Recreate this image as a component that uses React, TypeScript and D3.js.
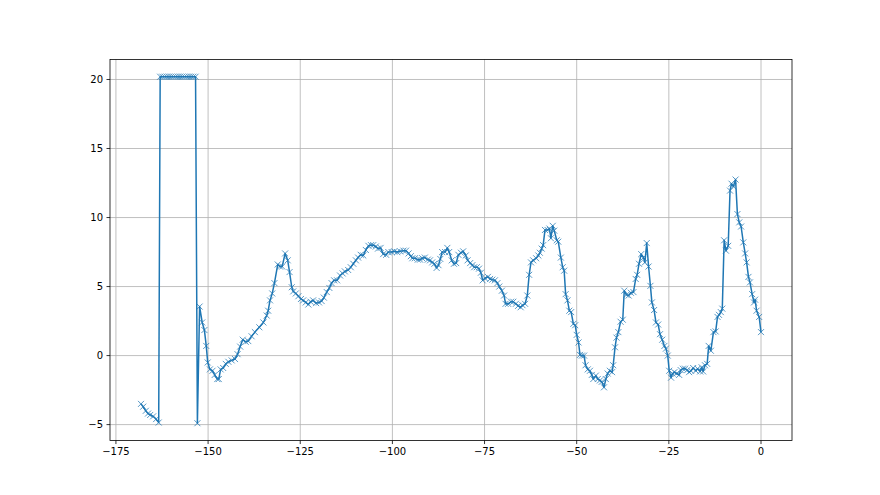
import React from "react";
import * as d3 from "d3";

// Series
const xs: number[] = [
  -168.2, -167.6, -166.9, -166.3, -165.7, -164.9, -164.1, -163.4,
  -163.0, -162.4, -161.8, -161.2, -160.6, -160.0, -159.4, -158.8, -158.2, -157.6, -157.0, -156.4, -155.8, -155.2, -154.6, -154.0, -153.4,
  -152.9, -152.3, -151.6, -151.0, -150.5, -150.1, -149.5, -148.8, -148.2, -147.5, -147.1, -146.6, -145.9, -145.2, -144.5, -143.6, -142.7, -142.0, -141.3, -140.6,
  -139.8, -139.1, -138.2, -137.3, -136.1, -135.0, -134.1, -133.7, -133.2, -132.6, -132.0, -131.1, -130.5, -129.9, -129.1, -128.4, -127.9, -127.3, -126.9, -126.2,
  -125.5, -124.8, -124.2, -123.5, -122.8, -122.2, -121.5, -120.7, -119.9, -119.2, -118.6, -117.8, -117.1, -116.5, -115.8, -115.0, -114.2, -113.5, -112.9, -112.0,
  -111.3, -110.6, -109.9, -109.3, -108.6, -107.9, -107.2, -106.5, -105.8, -105.2, -104.5, -103.9, -103.2, -102.5, -101.7, -101.1, -100.2, -99.5, -98.7, -97.9,
  -97.0, -96.3, -95.6, -95.0, -94.6, -93.9, -93.1, -92.5, -91.9, -91.2, -90.4, -89.8, -89.2, -88.6, -88.0, -87.5, -87.0, -86.5, -85.7, -85.1, -84.6, -83.9,
  -83.3, -82.7, -82.1, -81.4, -80.8, -80.1, -79.6, -78.9, -78.3, -77.8, -77.1, -76.5, -76.0, -75.5, -74.9, -74.1, -73.5, -72.9, -72.2, -71.5, -71.0, -70.3,
  -69.7, -69.3, -68.6, -67.8, -67.2, -66.5, -65.9, -65.2, -64.7, -64.0, -63.4, -62.9, -62.4, -61.8, -61.0, -60.4, -60.0, -59.5, -59.1, -58.6, -57.9, -57.4,
  -57.0, -56.5, -56.1, -55.4, -55.0, -54.3, -53.8, -53.4, -53.0, -52.5, -52.0, -51.5, -50.9, -50.4, -50.0, -49.5, -49.1, -48.6, -48.0, -47.6, -47.0, -46.4,
  -45.9, -45.5, -44.8, -44.3, -43.7, -43.2, -42.6, -42.1, -41.6, -41.0, -40.4, -40.1, -39.6, -39.2, -38.7, -38.1, -37.5, -37.1, -36.5, -35.9, -35.3, -34.6,
  -34.0, -33.6, -33.1, -32.5, -31.9, -31.5, -31.0, -30.5, -30.0, -29.6, -29.0, -28.5, -27.9, -27.4, -26.8, -26.2, -25.8, -25.3, -24.9, -24.4, -24.0, -23.5,
  -22.9, -22.2, -21.8, -21.2, -20.6, -20.0, -19.5, -19.0, -18.4, -17.7, -17.2, -16.5, -16.1, -15.7, -15.2, -14.6, -14.2, -13.6, -12.9, -12.3, -11.8, -11.4,
  -10.9, -10.5, -10.0, -9.5, -8.9, -8.4, -8.0, -7.5, -6.9, -6.4, -5.9, -5.4, -4.8, -4.3, -3.9, -3.4, -3.0, -2.4, -1.9, -1.6, -1.2, -0.5, 0.0,
];

const ys: number[] = [
  -3.5, -3.7, -4.0, -4.2, -4.3, -4.4, -4.6, -4.85,
  20.2, 20.2, 20.2, 20.2, 20.2, 20.2, 20.2, 20.2, 20.2, 20.2, 20.2, 20.2, 20.2, 20.2, 20.2, 20.2, 20.2,
  -4.9, 3.55, 2.4, 1.85, 0.7, -0.5, -1.0, -1.1, -1.4, -1.7, -1.7, -1.0, -0.9, -0.6, -0.45, -0.35, -0.25, 0.1, 0.65, 1.15,
  1.0, 1.05, 1.4, 1.7, 2.05, 2.4, 2.9, 3.25, 4.0, 4.5, 5.25, 6.6, 6.45, 6.45, 7.4, 6.9, 6.05, 4.95, 4.65, 4.5,
  4.3, 4.1, 4.0, 3.85, 3.7, 3.9, 4.0, 3.8, 3.85, 3.95, 4.2, 4.6, 4.9, 5.25, 5.45, 5.45, 5.8, 5.95, 6.1, 6.2,
  6.4, 6.65, 6.9, 7.1, 7.3, 7.25, 7.65, 7.95, 8.0, 8.0, 7.9, 7.75, 7.8, 7.35, 7.3, 7.5, 7.5, 7.55, 7.5, 7.55,
  7.6, 7.6, 7.4, 7.2, 7.05, 7.05, 6.95, 6.95, 7.05, 7.1, 6.95, 6.9, 6.75, 6.65, 6.35, 6.55, 7.0, 7.5, 7.5, 7.8, 7.5, 6.9,
  6.65, 6.7, 7.3, 7.45, 7.55, 7.25, 6.9, 6.7, 6.55, 6.4, 6.4, 6.3, 6.0, 5.45, 5.6, 5.7, 5.55, 5.5, 5.45, 5.25, 5.0, 4.7,
  4.35, 3.75, 3.75, 3.9, 3.9, 3.75, 3.6, 3.5, 3.65, 3.75, 4.35, 5.85, 6.75, 6.9, 7.05, 7.25, 7.45, 7.75, 8.0, 9.1, 9.1, 9.2,
  8.5, 9.4, 9.05, 8.35, 8.25, 7.1, 6.4, 6.15, 4.45, 4.0, 3.25, 3.15, 2.3, 2.2, 1.5, 0.95, 0.05, 0.0, 0.0, -0.7, -1.0, -1.1,
  -1.4, -1.7, -1.45, -1.7, -1.8, -1.9, -2.3, -1.7, -1.3, -1.1, -1.2, -0.7, 0.6, 1.3, 1.7, 2.45, 2.6, 4.7, 4.4, 4.35, 4.55, 4.6,
  5.55, 5.85, 6.65, 7.35, 7.1, 6.75, 8.15, 6.45, 5.05, 3.85, 3.3, 2.4, 2.25, 1.55, 1.15, 0.7, 0.5, 0.0, -1.1, -1.6, -1.3, -1.2,
  -1.3, -1.4, -1.05, -0.95, -0.95, -1.05, -1.2, -1.1, -0.9, -1.1, -0.95, -1.15, -0.85, -1.15, -0.7, -0.6, 0.7, 0.35, 1.7, 1.75, 2.8, 2.95,
  3.15, 3.4, 8.35, 7.6, 7.95, 11.95, 12.45, 12.25, 12.75, 10.25, 9.65, 9.35, 8.2, 7.4, 6.75, 5.7, 5.3, 4.45, 3.85, 4.05, 3.25, 2.8, 1.7,
];

const xTicks: number[] = [-175, -150, -125, -100, -75, -50, -25, 0];
const yTicks: number[] = [-5, 0, 5, 10, 15, 20];

const W = 880;
const H = 495;
const LEFT = 110;
const RIGHT = 792;
const TOP = 59.4;
const BOTTOM = 440.55;

const fmt = (v: number) => (v < 0 ? "\u2212" + Math.abs(v) : String(v));

export default function App() {
  const n = Math.min(xs.length, ys.length);
  const pts: [number, number][] = d3.range(n).map((i) => [xs[i], ys[i]]);
  const [x0, x1] = d3.extent(xs) as [number, number];
  const [y0, y1] = d3.extent(ys) as [number, number];
  const px = (x1 - x0) * 0.05;
  const py = (y1 - y0) * 0.05;
  const x = d3.scaleLinear().domain([x0 - px, x1 + px]).range([LEFT, RIGHT]);
  const y = d3.scaleLinear().domain([y0 - py, y1 + py]).range([BOTTOM, TOP]);
  const line = d3
    .line<[number, number]>()
    .x((d) => x(d[0]))
    .y((d) => y(d[1]));
  const color = "#1f77b4";
  const m = 3;
  return (
    <svg
      width={W}
      height={H}
      style={{ position: "absolute", left: 0, top: 0, background: "#fff" }}
      fontFamily="DejaVu Sans, sans-serif"
    >
      <rect x={0} y={0} width={W} height={H} fill="#fff" />
      <g>
        {xTicks.map((t) => (
          <line key={"gx" + t} x1={x(t)} x2={x(t)} y1={TOP} y2={BOTTOM} stroke="#b0b0b0" strokeWidth={0.8} />
        ))}
        {yTicks.map((t) => (
          <line key={"gy" + t} x1={LEFT} x2={RIGHT} y1={y(t)} y2={y(t)} stroke="#b0b0b0" strokeWidth={0.8} />
        ))}
      </g>
      <path d={line(pts) || ""} fill="none" stroke={color} strokeWidth={1.5} strokeLinejoin="round" />
      <g stroke={color} strokeWidth={1} opacity={0.75}>
        {pts.map((d, i) => (
          <path
            key={i}
            d={`M${x(d[0]) - m},${y(d[1]) - m}L${x(d[0]) + m},${y(d[1]) + m}M${x(d[0]) - m},${y(d[1]) + m}L${x(d[0]) + m},${y(d[1]) - m}`}
          />
        ))}
      </g>
      <rect x={LEFT} y={TOP} width={RIGHT - LEFT} height={BOTTOM - TOP} fill="none" stroke="#000" strokeWidth={0.8} />
      <g fontSize={10} fill="#000">
        {xTicks.map((t) => (
          <g key={"tx" + t}>
            <line x1={x(t)} x2={x(t)} y1={BOTTOM} y2={BOTTOM + 3.5} stroke="#000" strokeWidth={0.8} />
            <text x={x(t)} y={BOTTOM + 14.5} textAnchor="middle">
              {fmt(t)}
            </text>
          </g>
        ))}
        {yTicks.map((t) => (
          <g key={"ty" + t}>
            <line x1={LEFT - 3.5} x2={LEFT} y1={y(t)} y2={y(t)} stroke="#000" strokeWidth={0.8} />
            <text x={LEFT - 7} y={y(t)} dy="0.35em" textAnchor="end">
              {fmt(t)}
            </text>
          </g>
        ))}
      </g>
    </svg>
  );
}
